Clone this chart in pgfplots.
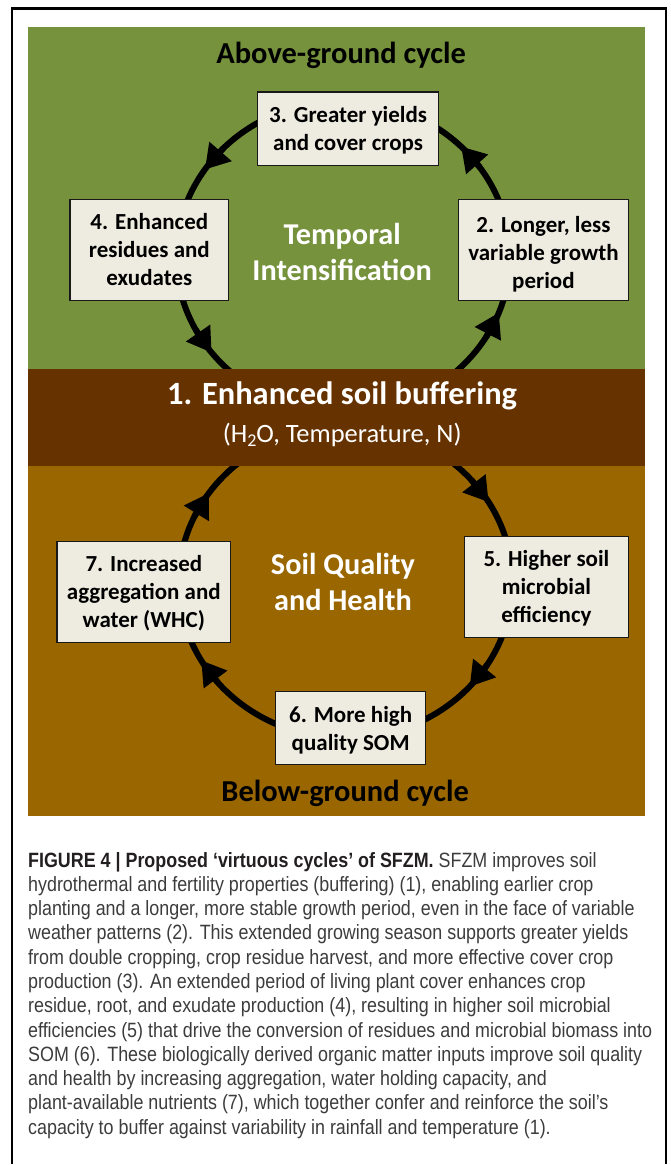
\documentclass[border=0pt]{standalone}
\usepackage{pgfplots}
\pgfplotsset{compat=1.18}
\usepackage{fontspec}
\setmainfont{Carlito}
\newfontfamily\capfont[FakeStretch=0.865]{Liberation Sans}
\usetikzlibrary{arrows.meta}
\definecolor{grn}{HTML}{76923C}
\definecolor{band}{HTML}{663300}
\definecolor{soil}{HTML}{996600}
\definecolor{boxfill}{HTML}{EEECE1}
\definecolor{capgray}{HTML}{3C3C3C}
\definecolor{capdark}{HTML}{231F20}
\newcommand{\bx}[4]{\draw[fill=boxfill,draw=black!90,line width=1.3pt] (axis cs:#1,#2) rectangle (axis cs:#3,#4);}
\newcommand{\tl}[3]{\node[anchor=base,inner sep=0pt,font=\fontsize{23}{28}\selectfont\bfseries] at (axis cs:#1,#2) {#3};}
\newcommand{\arr}[4]{\draw[line width=6pt,-{Triangle[length=24pt,width=28pt]}] (axis cs:#1,#2) -- (axis cs:#3,#4);}
\newcommand{\cl}[2]{\node[anchor=base west,inner sep=0pt,text=capgray,font=\capfont\fontsize{20.7}{24}\selectfont] at (axis cs:28,#1) {#2};}
\begin{document}
\begin{tikzpicture}
\begin{axis}[x=1pt,y=1pt,y dir=reverse,xmin=0,xmax=671,ymin=0,ymax=1165,
  hide axis,clip=false,scale only axis]
\path (axis cs:0,0) rectangle (axis cs:671,1165);
% frame
\draw[black,line width=2.5pt] (axis cs:12,1165) -- (axis cs:12,8.5) -- (axis cs:666.5,8.5) -- (axis cs:666.5,1165);
% panels
\fill[grn] (axis cs:28,27) rectangle (axis cs:646,369);
\fill[soil] (axis cs:28,466) rectangle (axis cs:646,817);
% cycles
\draw[line width=6pt] (axis cs:343.5,257) ellipse [x radius=167, y radius=156];
\draw[line width=6pt] (axis cs:346,583) ellipse [x radius=167, y radius=156];
\fill[band] (axis cs:28,369) rectangle (axis cs:646,466);
% arrows (upper cycle)
\arr{223.4}{148.6}{205.1}{169.8}
\arr{196.0}{330.2}{211.9}{353.1}
\arr{486.7}{337.3}{499.4}{312.9}
\arr{480.3}{167.5}{461.6}{146.7}
% arrows (lower cycle)
\arr{472.0}{480.6}{489.2}{502.7}
\arr{487.6}{665.7}{470.1}{687.4}
\arr{218.1}{683.3}{201.4}{661.0}
\arr{194.6}{517.1}{209.2}{493.5}
% boxes
\bx{258}{92}{439}{166}
\bx{70}{200}{229}{301}
\bx{459}{200}{629}{301}
\bx{57}{542}{231}{643}
\bx{465}{537}{629}{638}
\bx{276}{692}{426}{765}
% box texts
\tl{348.5}{123}{3. Greater yields}
\tl{348.5}{151}{and cover crops}
\tl{149.5}{230}{4. Enhanced}
\tl{149.5}{258}{residues and}
\tl{149.5}{286}{exudates}
\tl{544}{233}{2. Longer, less}
\tl{544}{261}{variable growth}
\tl{544}{289}{period}
\tl{144}{572}{7. Increased}
\tl{144}{600}{aggregation and}
\tl{144}{628}{water (WHC)}
\tl{547}{567}{5. Higher soil}
\tl{547}{595}{microbial}
\tl{547}{623}{efficiency}
\tl{351}{723}{6. More high}
\tl{351}{751}{quality SOM}
% headings
\node[anchor=base,inner sep=0pt,font=\fontsize{30.5}{36}\selectfont\bfseries] at (axis cs:341.5,63.5) {Above-ground cycle};
\node[anchor=base,inner sep=0pt,font=\fontsize{30.5}{36}\selectfont\bfseries] at (axis cs:345.5,802) {Below-ground cycle};
\node[anchor=base,inner sep=0pt,text=white,font=\fontsize{30.3}{36}\selectfont\bfseries] at (axis cs:342.5,245) {Temporal};
\node[anchor=base,inner sep=0pt,text=white,font=\fontsize{30.3}{36}\selectfont\bfseries] at (axis cs:342.5,280.5) {Intensification};
\node[anchor=base,inner sep=0pt,text=white,font=\fontsize{30.3}{36}\selectfont\bfseries] at (axis cs:343.3,575) {Soil Quality};
\node[anchor=base,inner sep=0pt,text=white,font=\fontsize{30.3}{36}\selectfont\bfseries] at (axis cs:343.3,611.5) {and Health};
\node[anchor=base,inner sep=0pt,text=white,font=\fontsize{32.5}{38}\selectfont\bfseries] at (axis cs:342.4,405) {1. Enhanced soil buffering};
\node[anchor=base,inner sep=0pt,text=white,font=\fontsize{26.5}{30}\selectfont] at (axis cs:342.5,443) {(H\raisebox{-0.3ex}{\fontsize{18}{20}\selectfont 2}O, Temperature, N)};
% caption
\node[anchor=base west,inner sep=0pt,font=\capfont\fontsize{20.7}{24}\selectfont] at (axis cs:28,868) {\textcolor{capdark}{\bfseries FIGURE 4 | Proposed ‘virtuous cycles’ of SFZM.}\ \textcolor{capgray}{SFZM improves soil}};
\cl{892.3}{hydrothermal and fertility properties (buffering) (1), enabling earlier crop}
\cl{916.6}{planting and a longer, more stable growth period, even in the face of variable}
\cl{940.9}{weather patterns (2). This extended growing season supports greater yields}
\cl{965.2}{from double cropping, crop residue harvest, and more effective cover crop}
\cl{989.5}{production (3). An extended period of living plant cover enhances crop}
\cl{1013.8}{residue, root, and exudate production (4), resulting in higher soil microbial}
\cl{1038.1}{efficiencies (5) that drive the conversion of residues and microbial biomass into}
\cl{1062.4}{SOM (6). These biologically derived organic matter inputs improve soil quality}
\cl{1086.7}{and health by increasing aggregation, water holding capacity, and}
\cl{1111.0}{plant-available nutrients (7), which together confer and reinforce the soil’s}
\cl{1135.3}{capacity to buffer against variability in rainfall and temperature (1).}
\end{axis}
\end{tikzpicture}
\end{document}
